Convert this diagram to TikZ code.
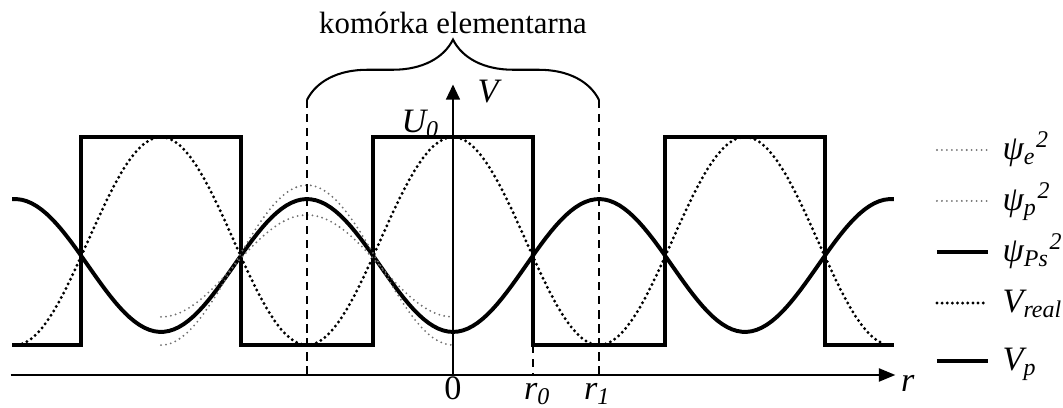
\documentclass[tikz,border=0pt]{standalone}
\usepackage{fontspec}
\setmainfont{Liberation Serif}
\usepackage{tikz}
\usetikzlibrary{arrows.meta,decorations.pathreplacing}
\definecolor{wavegray}{HTML}{707070}

\begin{document}
\begin{tikzpicture}[x=1.5cm, y=1.5cm, font=\fontsize{9}{11}\selectfont,
    axisline/.style={line width=0.6pt},
    potline/.style={line width=1.15pt},
    realdots/.style={line width=0.95pt, line cap=round, dash pattern=on 0pt off 1.5pt},
    wavedots/.style={wavegray, line width=0.6pt, line cap=round, dash pattern=on 0pt off 1.45pt},
    guide/.style={line width=0.55pt, dash pattern=on 2.4pt off 1.7pt},
    symlab/.style={inner sep=0pt, font=\fontsize{10}{12}\selectfont\itshape}]
    \useasboundingbox (-3.1027,-0.2260) rectangle (4.1781,2.5685);
    \coordinate (rstart) at (-3.03,0);
    \coordinate (rtip) at (3.03,0);
    \coordinate (vfoot) at (0,0);
    \coordinate (vtip) at (0,1.99);
    \draw[axisline,-{Triangle[length=4.8pt,width=3.8pt]}] (rstart) -- (rtip);
    \draw[axisline,-{Triangle[length=4.4pt,width=4pt]}] (vfoot) -- (vtip);
    \node[symlab, anchor=west, xshift=1.5pt, yshift=-2.5pt] (rlab) at (rtip) {r};
    \node[symlab, anchor=base west] (vlab) at (0.164,1.863) {V};
    \node[symlab, anchor=base east] (ulab) at (-0.085,1.664) {U\textsubscript{0}};
    \foreach \xx/\nm/\lab in {0/zero/{\upshape 0}, 0.58/rzero/{r\textsubscript{0}}, 0.99/rone/{r\textsubscript{1}}}
      \node[symlab, anchor=base] (\nm) at (\xx,-0.168) {\lab};
    \draw[potline] plot coordinates {(-3.02,0.205) (-2.55,0.205) (-2.55,1.63) (-1.45,1.63) (-1.45,0.205) (-0.55,0.205) (-0.55,1.63) (0.55,1.63) (0.55,0.205) (1.45,0.205) (1.45,1.63) (2.55,1.63) (2.55,0.205) (3.02,0.205)};
    \draw[potline] plot[domain=-3.02:3.02, samples=181] (\x, {0.75-0.455*cos(180*\x)});
    \draw[realdots] plot[domain=-2.95:2.95, samples=181] (\x, {0.9175+0.7125*cos(180*\x)});
    \draw[wavedots] plot[domain=-2:0, samples=61] (\x, {0.753-0.548*cos(180*\x)});
    \draw[wavedots] plot[domain=-2:0, samples=61] (\x, {0.747-0.349*cos(180*\x)});
    \coordinate (bl) at (-1,1.884);
    \coordinate (br) at (1,1.884);
    \coordinate (blfoot) at (-1,0);
    \coordinate (brfoot) at (1,0);
    \coordinate (rzerotop) at (0.55,0.205);
    \coordinate (rzerofoot) at (0.55,0);
    \draw[axisline, decorate, decoration={brace, amplitude=0.62cm}] (bl) -- (br);
    \node[anchor=base] (cell) at (0,2.342) {komórka elementarna};
    \draw[guide] (bl) -- (blfoot);
    \draw[guide] (br) -- (brfoot);
    \draw[guide] (rzerotop) -- (rzerofoot);
    \foreach \st/\yy/\nm/\lab in {wavedots/1.541/legpsie/{ψ\textsubscript{e}\textsuperscript{2}},
        wavedots/1.192/legpsip/{ψ\textsubscript{p}\textsuperscript{2}},
        potline/0.842/legpsips/{ψ\textsubscript{Ps}\textsuperscript{2}},
        realdots/0.493/legreal/{V\textsubscript{real}},
        potline/0.096/legvp/{V\textsubscript{p}}} {
      \draw[\st] (3.315,\yy) -- (3.664,\yy);
      \node[symlab, anchor=base west] (\nm) at (3.76,\yy-0.065) {\lab};
    }
\end{tikzpicture}
\end{document}
